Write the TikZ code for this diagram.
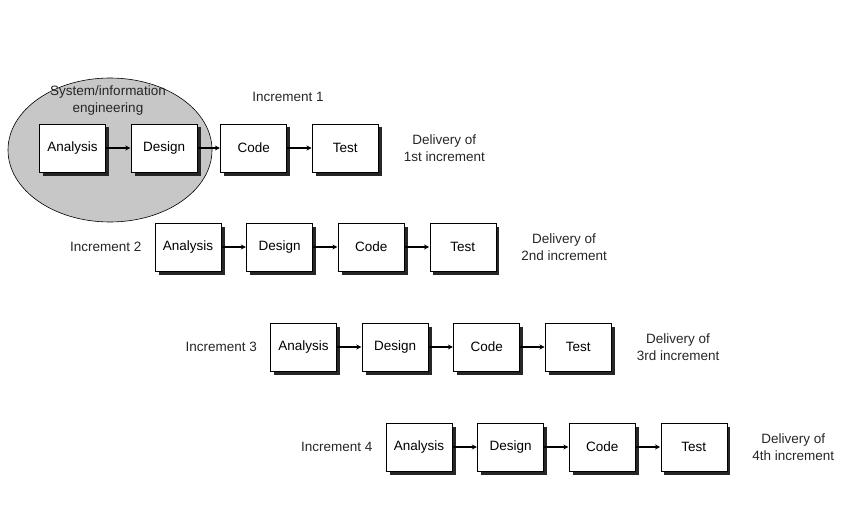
\documentclass[tikz,border=0pt]{standalone}
\usepackage{fontspec}
\setmainfont{Liberation Sans}
\usepackage{tikz}
\usetikzlibrary{arrows.meta,positioning,shapes.geometric,shadows}

\begin{document}
\begin{tikzpicture}[x=1pt, y=-1pt, >=Stealth, node distance=25pt,
  font=\fontsize{13.5}{17}\selectfont,
  box/.style={draw, fill=white, line width=0.6pt, minimum width=66pt, minimum height=48pt, inner sep=2pt,
    drop shadow={shadow xshift=3.5pt, shadow yshift=-3.5pt, fill=black!85, opacity=1}},
  flow/.style={->, line width=1.8pt, shorten >=0.5pt, arrows={-Stealth[length=5pt,width=5pt]}},
  lbl/.style={align=center, text=black!85, inner sep=1pt}]
\useasboundingbox (0,0) rectangle (850,505);
% system / information engineering
\node[ellipse, draw, fill=black!22, line width=0.6pt, minimum width=204pt, minimum height=144pt] (sie) at (110,150) {};
\node[lbl] (sielbl) at (108,101) {System/information\\engineering};
% increment 1
\node[box] (a1) at (72.5,148) {Analysis};
\node[box, right=of a1] (d1) {Design};
\node[box, right=23pt of d1] (c1) {Code};
\node[box, right=of c1] (t1) {Test};
\node[lbl, right=24pt of t1] (del1) {Delivery of\\1st increment};
\node[lbl] (inc1) at (288,97) {Increment 1};
\draw[flow] (a1) -- (d1);
\draw[flow] (d1) -- (c1);
\draw[flow] (c1) -- (t1);
% increment 2
\node[box] (a2) at (188,247) {Analysis};
\node[box, right=of a2] (d2) {Design};
\node[box, right=of d2] (c2) {Code};
\node[box, right=of c2] (t2) {Test};
\node[lbl, right=24pt of t2] (del2) {Delivery of\\2nd increment};
\node[lbl, left=12pt of a2] (inc2) {Increment 2};
\draw[flow] (a2) -- (d2);
\draw[flow] (d2) -- (c2);
\draw[flow] (c2) -- (t2);
% increment 3
\node[box] (a3) at (303.5,347) {Analysis};
\node[box, right=of a3] (d3) {Design};
\node[box, right=of d3] (c3) {Code};
\node[box, right=of c3] (t3) {Test};
\node[lbl, right=24pt of t3] (del3) {Delivery of\\3rd increment};
\node[lbl, left=12pt of a3] (inc3) {Increment 3};
\draw[flow] (a3) -- (d3);
\draw[flow] (d3) -- (c3);
\draw[flow] (c3) -- (t3);
% increment 4
\node[box] (a4) at (419,447) {Analysis};
\node[box, right=of a4] (d4) {Design};
\node[box, right=of d4] (c4) {Code};
\node[box, right=of c4] (t4) {Test};
\node[lbl, right=24pt of t4] (del4) {Delivery of\\4th increment};
\node[lbl, left=12pt of a4] (inc4) {Increment 4};
\draw[flow] (a4) -- (d4);
\draw[flow] (d4) -- (c4);
\draw[flow] (c4) -- (t4);
\end{tikzpicture}
\end{document}
